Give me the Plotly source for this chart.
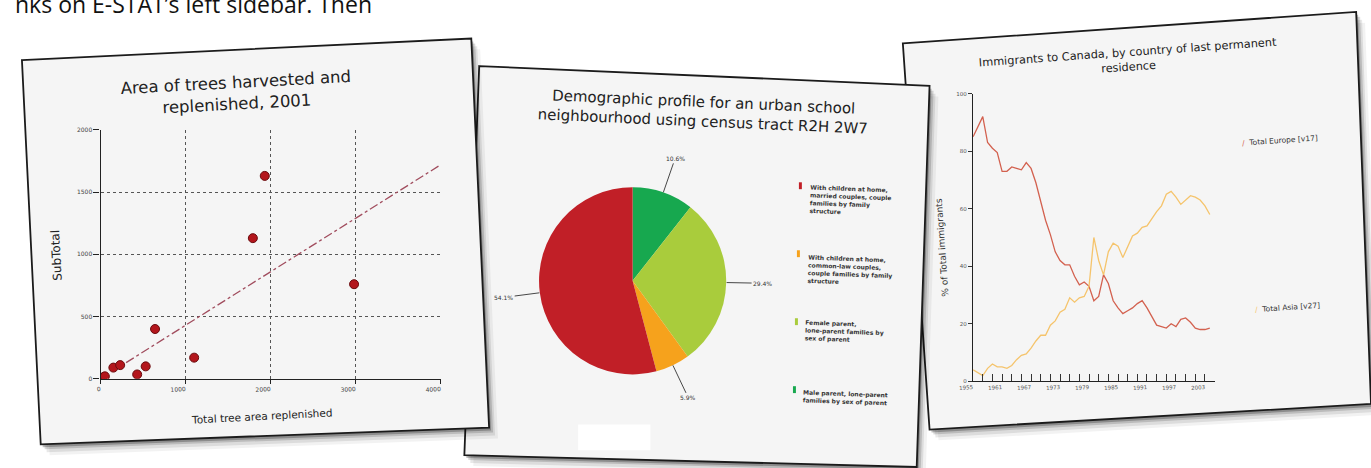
import numpy as np
import plotly.graph_objects as go

W, H = 1371, 468


def px(x):
    return x / W


def py(y):
    return 1 - y / H


# ---------------- data ----------------
# Card 1: scatter
tree_replenished = [0, 20, 50, 150, 230, 430, 530, 640, 1100, 1790, 1930, 2980]
tree_subtotal = [0, 10, 20, 90, 110, 35, 100, 400, 170, 1130, 1630, 760]
trend_x = [300, 4000]
trend_y = [130, 1720]
scatter_xticks = [0, 1000, 2000, 3000, 4000]
scatter_yticks = [0, 500, 1000, 1500, 2000]

# Card 2: pie
family_types = [
    "With children at home,<br>married couples, couple<br>families by family<br>structure",
    "With children at home,<br>common-law couples,<br>couple families by family<br>structure",
    "Female parent,<br>lone-parent families by<br>sex of parent",
    "Male parent, lone-parent<br>families by sex of parent",
]
family_shares = [54.1, 5.9, 29.4, 10.6]
family_colors = ["#c11f27", "#f6a21c", "#a9cc3c", "#17a84f"]

# Card 3: lines
years = list(range(1955, 2005))
europe = [85, 88.5, 92, 83, 81, 79.5, 73, 73, 74.5, 74,
          73.5, 76, 74, 69, 62, 56, 51, 45, 42, 40.5,
          40.5, 36.5, 33.5, 34.5, 33, 28, 29.5, 37, 34, 28,
          25.5, 23.5, 24.5, 25.5, 27, 28, 25.5, 22.5, 19.5, 19,
          18.5, 20, 19, 21.5, 22, 20.5, 18.5, 18, 18, 18.5]
asia = [4, 3, 2, 4.5, 6, 5, 5, 4.5, 5.5, 7.5,
        9, 9.5, 11.5, 14, 16, 16, 19.5, 21, 24, 25,
        29, 27.5, 29, 29.5, 33, 50, 42, 37, 45, 48,
        47, 43, 47, 50.5, 51.5, 53.5, 54, 56.5, 59, 61,
        65, 66, 64, 61.5, 63, 64.5, 64, 63, 61, 58]
year_ticks = [1955, 1961, 1967, 1973, 1979, 1985, 1991, 1997, 2003]
pct_ticks = [0, 20, 40, 60, 80, 100]

# ---------------- figure ----------------
fig = go.Figure()

CARD = "#f5f5f5"
EDGE = "#1b1b1b"


def poly(pts):
    return "M " + " L ".join(f"{px(x):.5f},{py(y):.5f}" for x, y in pts) + " Z"


shapes = []


def card(pts):
    for dx, dy, a in [(9, 11, 0.05), (6, 8, 0.09), (4, 5, 0.15), (2, 3, 0.25)]:
        shapes.append(dict(type="path", xref="paper", yref="paper", layer="below",
                           path=poly([(x + dx, y + dy) for x, y in pts]),
                           fillcolor=f"rgba(0,0,0,{a})", line=dict(width=0)))
    shapes.append(dict(type="path", xref="paper", yref="paper", layer="below",
                       path=poly(pts), fillcolor=CARD, line=dict(color=EDGE, width=1.8)))


card3 = [(898, 40), (1356, 8), (1371, 406), (925, 432)]
card2 = [(470, 63), (925, 83), (912, 470), (455, 458)]
card1 = [(8, 57), (462, 35), (480, 430), (27, 447)]

card(card3)
card(card2)
shapes.append(dict(type="rect", xref="paper", yref="paper", layer="below",
                   x0=px(570), x1=px(643), y0=py(453), y1=py(427),
                   fillcolor="#ffffff", line=dict(width=0)))
card(card1)

# ---- scatter (card 1)
fig.add_trace(go.Scatter(x=trend_x, y=trend_y, mode="lines",
                         line=dict(color="#a14d5e", width=1.3, dash="dashdot"),
                         xaxis="x", yaxis="y", hoverinfo="skip"))
fig.add_trace(go.Scatter(x=tree_replenished, y=tree_subtotal, mode="markers",
                         marker=dict(color="#b3161c", size=9,
                                     line=dict(color="#6a0b0e", width=1)),
                         xaxis="x", yaxis="y"))

# ---- pie (card 2): slices laid out counterclockwise from 12 o'clock, in data order
pie_labels = [t.replace("<br>", " ") for t in family_types]
fig.add_trace(go.Pie(values=family_shares[::-1], labels=pie_labels[::-1],
                     marker=dict(colors=family_colors[::-1], line=dict(width=0)),
                     sort=False, direction="clockwise", rotation=0,
                     textinfo="none", hoverinfo="label+percent",
                     domain=dict(x=[px(530), px(720)], y=[py(376), py(186)])))

# ---- lines (card 3)
fig.add_trace(go.Scatter(x=years, y=europe, mode="lines", name="Total Europe [v17]",
                         line=dict(color="#d3614f", width=1.3), xaxis="x3", yaxis="y3"))
fig.add_trace(go.Scatter(x=years, y=asia, mode="lines", name="Total Asia [v27]",
                         line=dict(color="#f5c46c", width=1.3), xaxis="x3", yaxis="y3"))

axfont = dict(family="DejaVu Sans", size=6, color="#444")

fig.update_layout(
    width=W, height=H, margin=dict(l=0, r=0, t=0, b=0),
    paper_bgcolor="#ffffff", plot_bgcolor="rgba(0,0,0,0)",
    showlegend=False,
    xaxis=dict(domain=[px(87.5), px(431.5)], range=[0, 4003], tickvals=scatter_xticks,
               showline=True, linecolor="#222", linewidth=1.3, ticks="outside", ticklen=4,
               tickcolor="#222", showgrid=True, gridcolor="#555", griddash="dot", gridwidth=1,
               zeroline=False, tickfont=axfont, tickangle=-3, anchor="y", fixedrange=True),
    yaxis=dict(domain=[py(380.5), py(127.5)], range=[0, 2002], tickvals=scatter_yticks,
               showline=True, linecolor="#222", linewidth=1.3, ticks="outside", ticklen=6,
               tickcolor="#222", showgrid=True, gridcolor="#555", griddash="dot", gridwidth=1,
               zeroline=False, tickfont=axfont, anchor="x", fixedrange=True),
    xaxis3=dict(domain=[px(969), px(1213)], range=[1955, 2005], tickvals=year_ticks,
                showline=True, linecolor="#222", linewidth=1.3, ticks="inside", ticklen=7,
                tickcolor="#333", showgrid=False, zeroline=False,
                tickfont=dict(family="DejaVu Sans", size=5.5, color="#555"),
                tickangle=-4, anchor="y3",
                minor=dict(tickmode="linear", tick0=1955, dtick=2, ticks="inside", ticklen=7,
                           tickcolor="#333", showgrid=False)),
    yaxis3=dict(domain=[py(383), py(91)], range=[0, 100], tickvals=pct_ticks,
                showline=True, linecolor="#222", linewidth=1.3, ticks="outside", ticklen=4,
                tickcolor="#333", showgrid=False, zeroline=False,
                tickfont=dict(family="DejaVu Sans", size=5.5, color="#555"), anchor="x3"),
)

ann = []


def text(x, y, s, size, angle=0, color="#222", family="DejaVu Sans", xanchor="center",
         yanchor="middle", align="center"):
    ann.append(dict(x=px(x), y=py(y), xref="paper", yref="paper", text=s, showarrow=False,
                    textangle=angle, xanchor=xanchor, yanchor=yanchor, align=align,
                    font=dict(family=family, size=size, color=color)))


# top cropped page text
text(-1, 0, "nks on E-STAT’s left sidebar. Then", 23, family="Open Sans", color="#111",
     xanchor="left")

# card 1 texts
text(225, 90, "Area of trees harvested and<br>replenished, 2001", 16.5, angle=-3)
text(43, 255, "SubTotal", 12, angle=-93)
text(250, 418, "Total tree area replenished", 10.5, angle=-3)

# card 2 texts
text(696, 110, "Demographic profile for an urban school<br>neighbourhood using census tract R2H 2W7",
     15, angle=2.5)

# pie percentage labels with leader lines (slices run counterclockwise from 12 o'clock)
fr = np.array(family_shares) / np.sum(family_shares)
cum = np.concatenate([[0], np.cumsum(fr)[:-1]])
mid = np.deg2rad(90 + 360 * (cum + fr / 2))
cx, cy, R, RL = 625, 281, 95, 131
for v, a in zip(family_shares, mid):
    ex, ey = cx + R * np.cos(a), cy - R * np.sin(a)
    tx, ty = cx + RL * np.cos(a), cy - RL * np.sin(a)
    ann.append(dict(x=px(ex), y=py(ey), xref="paper", yref="paper", text=f"{v:.1f}%",
                    showarrow=True, arrowhead=0, arrowwidth=0.9, arrowcolor="#333",
                    ax=tx - ex, ay=ty - ey, standoff=0,
                    font=dict(family="DejaVu Sans", size=6, color="#333")))

# pie legend
leg_pos = [(802, 199, 793, 181), (800, 270, 791, 250), (797, 333, 789, 319), (795, 400, 787, 388)]
for lbl, col, (tx, ty, sx, sy) in zip(family_types, family_colors, leg_pos):
    text(tx, ty, "<b>" + lbl + "</b>", 6, angle=2, color="#333", xanchor="left", align="left")
    shapes.append(dict(type="rect", xref="paper", yref="paper", x0=px(sx), x1=px(sx + 3),
                       y0=py(sy + 7), y1=py(sy), fillcolor=col, line=dict(width=0)))

# card 3 texts
text(1126, 57, "Immigrants to Canada, by country of last permanent<br>residence", 11.3, angle=-4)
text(938, 247, "% of Total immigrants", 9, angle=-94, color="#333")
text(1238, 139, '<span style="color:#d3614f">/</span>  Total Europe [v17]', 7.5, angle=-4,
     color="#333", xanchor="left")
text(1251, 308, '<span style="color:#f5c46c">/</span>  Total Asia [v27]', 7.5, angle=-4,
     color="#333", xanchor="left")

fig.update_layout(annotations=ann, shapes=shapes)

fig.write_html("out.html")
